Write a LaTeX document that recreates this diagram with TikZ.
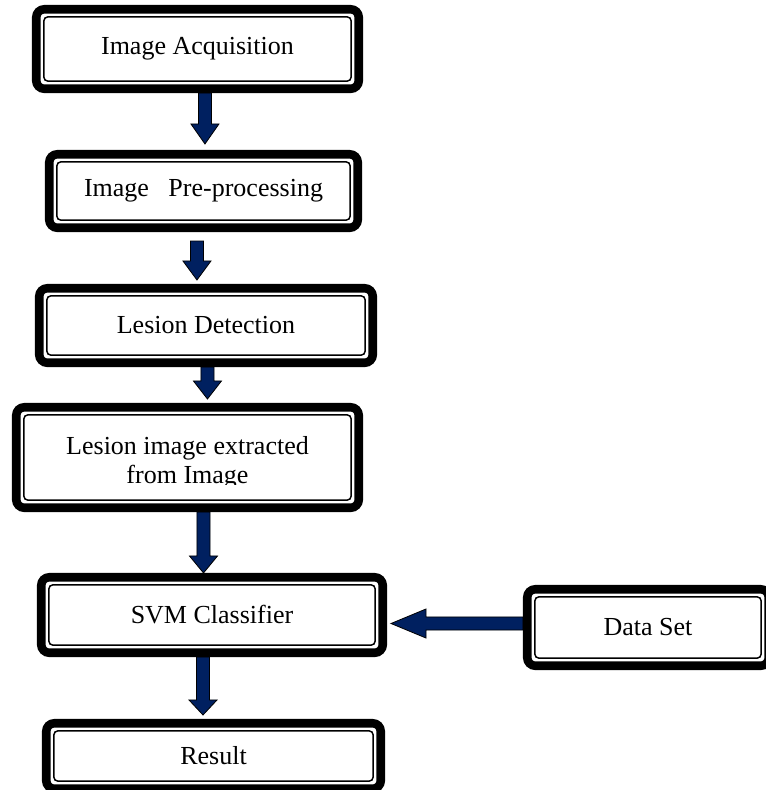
\documentclass[tikz,border=0pt]{standalone}
\usepackage{fontspec}
\setmainfont{Liberation Serif}
\usetikzlibrary{calc,backgrounds}
\definecolor{navyarrow}{RGB}{0,32,96}
\begin{document}
\begin{tikzpicture}[x=0.75pt,y=-0.75pt,
  txt/.style={font=\fontsize{19.5}{21.75}\selectfont, align=center, inner sep=0pt},
  box/.style={draw=black, line width=6.4pt, rounded corners=6pt, fill=white, inner sep=0pt,
    font=\fontsize{19.5}{21.75}\selectfont, align=center,
    path picture={\draw[line width=1.1pt, rounded corners=3pt]
      ([shift={(5.7pt,5.7pt)}]path picture bounding box.south west) rectangle
      ([shift={(-5.7pt,-5.7pt)}]path picture bounding box.north east);}},
  bsize/.style 2 args={minimum width={(#1-8.5)*0.75pt}, minimum height={(#2-8.5)*0.75pt}},
  varrow/.style={fill=navyarrow, draw=black, line width=0.6pt,
    to path={let \p1=(\tikztostart), \p2=(\tikztotarget) in
      (\x1-4.9pt,\y1) -- (\x1+4.9pt,\y1) -- (\x1+4.9pt,\y2+#1) -- (\x1+10.5pt,\y2+#1)
      -- (\x1,\y2) -- (\x1-10.5pt,\y2+#1) -- (\x1-4.9pt,\y2+#1) -- cycle}},
  harrow/.style={fill=navyarrow, draw=black, line width=0.6pt,
    to path={let \p1=(\tikztostart), \p2=(\tikztotarget) in
      (\x1,\y1-4.9pt) -- (\x1,\y1+4.9pt) -- (\x2+#1,\y1+4.9pt) -- (\x2+#1,\y1+10.9pt)
      -- (\x2,\y1) -- (\x2+#1,\y1-10.9pt) -- (\x2+#1,\y1-4.9pt) -- cycle}}
]
\useasboundingbox (0,0) rectangle (766,790);
\clip (0,0) rectangle (766,790);

\node[box, bsize={331}{88}] (b1) at (197.5,49) {Image Acquisition};
\node[box, bsize={317}{82}] (b2) at (203.5,191) {Image\ \ \ Pre-processing};
\node[box, bsize={342}{83}] (b3) at (206,325.5) {Lesion Detection};
\node[box, bsize={351}{109}] (b4) at (187.5,457.5) {};
\begin{scope}
  \clip (0,420) rectangle (766,484.5);
  \node[txt] (t4) at (187.5,462.5) {Lesion image extracted\\from Image};
\end{scope}
\node[box, bsize={350}{84}] (b5) at (212,615) {SVM Classifier};
\node[box, bsize={343}{74}] (b6) at (213.5,756) {Result};
\node[box, bsize={250}{85}] (b7) at (648,627.5) {Data Set};

\begin{scope}[on background layer]
  \draw[varrow=15pt] ([xshift=5.6pt]b1.south) to ([yshift=4.5pt]b2.north);
  \draw[varrow=14.25pt] ([xshift=-4.9pt,yshift=-6.75pt]b2.south) to ([yshift=3pt]b3.north);
  \draw[varrow=13.5pt] ([xshift=1.1pt]b3.south) to ([yshift=3pt]b4.north);
  \draw[varrow=12.75pt] ([xshift=12pt]b4.south) to (b5.north);
  \draw[varrow=11.25pt] ([xshift=-6.75pt]b5.south) to ([yshift=3pt]b6.north);
  \draw[harrow=26.25pt] ([yshift=3pt]b7.west) to ([xshift=3pt]b5.east);
\end{scope}
\end{tikzpicture}
\end{document}
